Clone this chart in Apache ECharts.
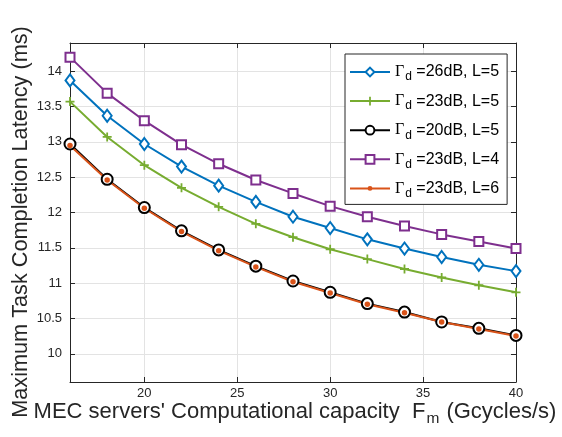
<!DOCTYPE html>
<html>
<head>
<meta charset="utf-8">
<script src="https://cdn.jsdelivr.net/npm/echarts@6/dist/echarts.min.js"></script>
<style>
  html, body { margin: 0; padding: 0; background: #fff; }
  #chart { width: 562px; height: 437px; }
</style>
</head>
<body>
<div id="chart"></div>
<script>
// MEC server computational capacity F_m (Gcycles/s)
const capacity = [16, 18, 20, 22, 24, 26, 28, 30, 32, 34, 36, 38, 40];

// Maximum task completion latency (ms) for each setting
const latency26dB_L5 = [13.87, 13.37, 12.97, 12.65, 12.38, 12.15, 11.94, 11.78, 11.62, 11.49, 11.37, 11.26, 11.17];
const latency23dB_L5 = [13.57, 13.07, 12.67, 12.35, 12.08, 11.84, 11.65, 11.48, 11.34, 11.20, 11.08, 10.97, 10.87];
const latency20dB_L5 = [12.97, 12.47, 12.07, 11.74, 11.47, 11.24, 11.03, 10.87, 10.71, 10.59, 10.45, 10.36, 10.26];
const latency23dB_L4 = [14.20, 13.69, 13.30, 12.96, 12.69, 12.46, 12.27, 12.09, 11.94, 11.81, 11.69, 11.59, 11.49];
const latency23dB_L6 = [12.95, 12.46, 12.06, 11.73, 11.46, 11.23, 11.02, 10.86, 10.70, 10.58, 10.45, 10.35, 10.25];

// Legend text following the Γ_d symbol
const legendLabels = ['=26dB, L=5', '=23dB, L=5', '=20dB, L=5', '=23dB, L=4', '=23dB, L=6'];

// Tick positions
const xTicks = [20, 25, 30, 35, 40];
const yTicks = [10, 10.5, 11, 11.5, 12, 12.5, 13, 13.5, 14];

const AXIS_COLOR = '#262626';
const GRID_COLOR = '#e3e3e3';
const FONT = 'Liberation Sans, Arial, Helvetica, sans-serif';
// '+' marker
const PLUS = 'path://M3.2,0H4.8V3.2H8V4.8H4.8V8H3.2V4.8H0V3.2H3.2Z';
// small '.' marker: a dot centred in a 10x10 box (the moveTo points set the box)
const DOT = 'path://M0,0M10,10M2.25,5A2.75,2.75 0 1,0 7.75,5A2.75,2.75 0 1,0 2.25,5Z';

const pairs = ys => capacity.map((x, i) => [x, ys[i]]);

function lineSeries(name, data, color, symbol, symbolSize, extra) {
  return Object.assign({
    type: 'line',
    name: name,
    data: pairs(data),
    symbol: symbol,
    symbolSize: symbolSize,
    showAllSymbol: true,
    clip: false,
    lineStyle: { color: color, width: 2 },
    itemStyle: { color: color, borderColor: color, borderWidth: 1.6 },
    emphasis: { disabled: true },
    animation: false
  }, extra || {});
}

const chart = echarts.init(document.getElementById('chart'), null, { renderer: 'canvas' });

chart.setOption({
  backgroundColor: '#fff',
  animation: false,
  grid: { left: 70, right: 46, top: 43, bottom: 55, containLabel: false },
  xAxis: [{
    type: 'value', min: 16, max: 40, position: 'bottom',
    axisLine: { show: true, lineStyle: { color: AXIS_COLOR, width: 1 } },
    axisTick: { show: true, inside: true, length: 5, customValues: xTicks, lineStyle: { color: AXIS_COLOR } },
    axisLabel: { customValues: xTicks, color: AXIS_COLOR, fontFamily: FONT, fontSize: 13, margin: 5 },
    splitLine: { show: true, lineStyle: { color: GRID_COLOR, width: 1 } }
  }, {
    type: 'value', min: 16, max: 40, position: 'top',
    axisLine: { show: true, onZero: false, lineStyle: { color: AXIS_COLOR, width: 1 } },
    axisTick: { show: true, inside: true, length: 5, customValues: xTicks, lineStyle: { color: AXIS_COLOR } },
    axisLabel: { show: false },
    splitLine: { show: false }
  }],
  yAxis: [{
    type: 'value', min: 9.6, max: 14.4, position: 'left',
    axisLine: { show: true, lineStyle: { color: AXIS_COLOR, width: 1 } },
    axisTick: { show: true, inside: true, length: 5, customValues: yTicks, lineStyle: { color: AXIS_COLOR } },
    axisLabel: { customValues: yTicks, color: AXIS_COLOR, fontFamily: FONT, fontSize: 13, margin: 8 },
    splitLine: { show: true, lineStyle: { color: GRID_COLOR, width: 1 } }
  }, {
    type: 'value', min: 9.6, max: 14.4, position: 'right',
    axisLine: { show: true, onZero: false, lineStyle: { color: AXIS_COLOR, width: 1 } },
    axisTick: { show: true, inside: true, length: 5, customValues: yTicks, lineStyle: { color: AXIS_COLOR } },
    axisLabel: { show: false },
    splitLine: { show: false }
  }],
  legend: {
    orient: 'vertical',
    left: 345, top: 54,
    padding: [7, 8, 5, 4],
    itemWidth: 40, itemHeight: 11, itemGap: 7.1,
    backgroundColor: '#fff',
    borderColor: AXIS_COLOR, borderWidth: 1, borderRadius: 0,
    selectedMode: false,
    data: legendLabels,
    formatter: n => '{g|Γ}{s|d}{t| ' + n + '}',
    textStyle: {
      color: '#000',
      rich: {
        g: { fontFamily: 'Liberation Serif, DejaVu Serif, serif', fontSize: 16, lineHeight: 20, color: '#000' },
        s: { fontFamily: FONT, fontSize: 12, lineHeight: 10, padding: [10, 0, 0, 1], color: '#000' },
        t: { fontFamily: FONT, fontSize: 16, lineHeight: 20, color: '#000' }
      }
    }
  },
  graphic: [{
    type: 'text',
    x: 21, y: 222,
    rotation: Math.PI / 2,
    style: {
      text: 'Maximum Task Completion Latency (ms)',
      font: '21.7px ' + FONT,
      fill: '#262626',
      align: 'center', verticalAlign: 'middle'
    }
  }, {
    type: 'text',
    x: 295, y: 412,
    style: {
      text: "{a|MEC servers' Computational capacity  F}{s|m}{a| (Gcycles/s)}",
      fill: '#262626',
      align: 'center', verticalAlign: 'middle',
      rich: {
        a: { fontFamily: FONT, fontSize: 22, lineHeight: 26, fill: '#262626' },
        s: { fontFamily: FONT, fontSize: 15.5, lineHeight: 16, padding: [14, 1, 0, 1], fill: '#262626' }
      }
    }
  }],
  series: [
    lineSeries(legendLabels[0], latency26dB_L5, '#0072BD', 'emptyDiamond', [9, 12]),
    lineSeries(legendLabels[1], latency23dB_L5, '#77AC30', PLUS, 9, { itemStyle: { color: '#77AC30', borderWidth: 0 } }),
    lineSeries(legendLabels[2], latency20dB_L5, '#000000', 'emptyCircle', 11),
    lineSeries(legendLabels[3], latency23dB_L4, '#7E2F8E', 'emptyRect', 9),
    lineSeries(legendLabels[4], latency23dB_L6, '#D95319', DOT, 10, { itemStyle: { color: '#D95319', borderWidth: 0 } })
  ]
});
</script>
</body>
</html>
